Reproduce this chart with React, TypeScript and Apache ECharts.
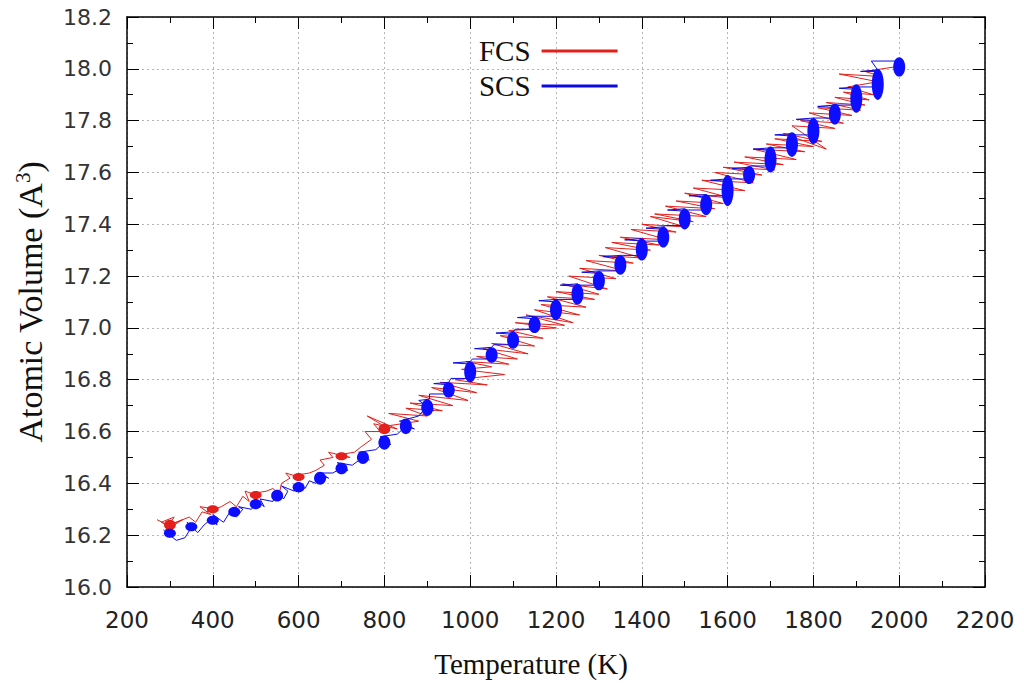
import React, { useEffect, useRef } from "react";
import * as echarts from "echarts";

const xTicks = { min: 200, max: 2200, interval: 200 };
const yTicks = { min: 16.0, max: 18.2, interval: 0.2 };

// FCS trace (temperature K, atomic volume A^3)
const fcsTrace: number[][] = [
  [270,16.26],[305,16.23],[280,16.25],[310,16.27],[290,16.22],[330,16.26],[300,16.24],
  [345,16.27],[360,16.25],[375,16.29],[395,16.28],[370,16.31],[410,16.30],[385,16.29],[420,16.31],
  [440,16.33],[455,16.31],[470,16.35],[485,16.33],[475,16.37],[510,16.35],[490,16.36],[525,16.37],
  [540,16.38],[555,16.36],[560,16.40],[580,16.42],[570,16.44],[610,16.42],[590,16.43],[625,16.44],
  [640,16.45],[660,16.47],[650,16.49],[680,16.50],[670,16.52],[720,16.50],[690,16.51],[730,16.52],
  [745,16.54],[770,16.57],[755,16.60],[790,16.60],[775,16.63],[830,16.61],[760,16.66],[800,16.62],
  [880,16.64],[810,16.67],[900,16.66],[850,16.69],[935,16.68],
  [860,16.71],[960,16.70],[880,16.74],[995,16.72],[910,16.77],[1015,16.75],[930,16.79],[1040,16.78],
  [965,16.80],[1080,16.82],[980,16.84],[1050,16.85],[990,16.87],[1090,16.86],
  [1015,16.89],[1110,16.88],[1030,16.92],[1135,16.90],[1050,16.94],[1150,16.93],[1070,16.97],[1170,16.96],
  [1090,16.99],[1200,17.00],[1105,17.02],
  [1220,17.01],[1130,17.05],[1240,17.02],[1150,17.07],[1255,17.05],[1165,17.09],[1270,17.08],[1180,17.12],
  [1290,17.11],[1200,17.14],
  [1300,17.13],[1215,17.17],[1320,17.15],[1230,17.20],[1340,17.19],[1255,17.23],[1360,17.22],[1270,17.26],
  [1380,17.25],
  [1300,17.28],[1400,17.27],[1315,17.31],[1420,17.30],[1330,17.33],[1440,17.32],[1350,17.35],[1460,17.34],
  [1375,17.38],[1480,17.37],
  [1400,17.40],[1500,17.39],[1420,17.43],[1520,17.41],[1430,17.44],[1550,17.43],[1455,17.47],[1570,17.46],
  [1480,17.49],
  [1590,17.48],[1500,17.52],[1610,17.50],[1520,17.54],[1640,17.53],[1540,17.57],[1660,17.56],[1570,17.60],
  [1680,17.59],[1590,17.62],[1710,17.61],[1615,17.64],[1730,17.63],[1640,17.66],[1760,17.65],[1660,17.69],
  [1780,17.68],
  [1690,17.71],[1800,17.70],[1710,17.73],[1820,17.72],[1730,17.75],[1830,17.69],[1750,17.78],[1850,17.77],
  [1770,17.80],
  [1870,17.79],[1790,17.83],[1890,17.82],[1810,17.85],[1910,17.84],[1830,17.87],[1920,17.86],[1850,17.89],
  [1930,17.88],[1870,17.91],[1940,17.90],[1880,17.93],[1950,17.95],[1860,17.98],[1960,17.97],[1920,17.99],
  [2000,18.01],
];

// SCS trace
const scsTrace: number[][] = [
  [285,16.22],[300,16.20],[315,16.18],[335,16.19],[350,16.23],[340,16.25],[365,16.21],[380,16.24],
  [395,16.26],[410,16.24],[400,16.28],[425,16.25],[440,16.29],[455,16.27],[470,16.30],[460,16.31],
  [490,16.30],[505,16.33],[520,16.31],[510,16.34],[540,16.33],[550,16.37],[565,16.34],[575,16.37],
  [560,16.39],[590,16.37],[600,16.40],[615,16.38],[625,16.41],[640,16.40],[655,16.43],[670,16.42],
  [650,16.44],[680,16.44],[700,16.46],[715,16.45],[690,16.48],[725,16.47],[750,16.50],[765,16.49],
  [740,16.52],[780,16.53],[800,16.56],[815,16.55],[790,16.58],[830,16.59],[850,16.62],[870,16.61],
  [835,16.64],[880,16.66],[900,16.70],[915,16.68],[880,16.72],[905,16.725],
  [905,16.745],[955,16.745],[945,16.76],[955,16.78],[915,16.785],[950,16.79],
  [955,16.805],[1005,16.805],[995,16.83],[1005,16.86],[960,16.865],[1000,16.87],
  [1005,16.88],[1055,16.88],[1045,16.895],[1055,16.915],[1010,16.92],[1050,16.925],
  [1055,16.935],[1105,16.935],[1095,16.955],[1105,16.975],[1060,16.98],[1100,16.985],
  [1105,16.995],[1155,16.995],[1145,17.01],[1155,17.035],[1110,17.04],[1150,17.045],
  [1155,17.045],[1205,17.045],[1195,17.07],[1205,17.10],[1160,17.105],[1200,17.11],
  [1205,17.11],[1255,17.11],[1245,17.13],[1255,17.16],[1210,17.165],[1250,17.17],
  [1255,17.165],[1305,17.165],[1295,17.185],[1305,17.21],[1260,17.215],[1300,17.22],
  [1305,17.22],[1355,17.22],[1345,17.245],[1355,17.27],[1310,17.275],[1350,17.28],
  [1355,17.28],[1405,17.28],[1395,17.30],[1405,17.335],[1360,17.34],[1400,17.345],
  [1405,17.335],[1455,17.335],[1445,17.355],[1455,17.38],[1410,17.385],[1450,17.39],
  [1455,17.395],[1505,17.395],[1495,17.42],[1505,17.45],[1460,17.455],[1500,17.46],
  [1505,17.455],[1555,17.455],[1545,17.48],[1555,17.505],[1510,17.51],[1550,17.515],
  [1555,17.51],[1605,17.51],[1595,17.53],[1605,17.565],[1560,17.57],[1600,17.575],
  [1605,17.575],[1655,17.575],[1645,17.59],[1655,17.61],[1610,17.615],[1650,17.62],
  [1655,17.625],[1705,17.625],[1695,17.65],[1705,17.685],[1660,17.69],[1700,17.695],
  [1705,17.695],[1755,17.695],[1745,17.71],[1755,17.74],[1710,17.745],[1750,17.75],
  [1755,17.745],[1805,17.745],[1795,17.77],[1805,17.80],[1760,17.805],[1800,17.81],
  [1805,17.81],[1855,17.81],[1845,17.83],[1855,17.85],[1810,17.855],[1850,17.86],
  [1855,17.86],[1905,17.86],[1895,17.89],[1905,17.92],[1860,17.925],[1900,17.93],
  [1905,17.93],[1955,17.93],[1945,17.95],[1955,17.99],[1910,17.99],[1950,17.995],
  [1935,18.03],[2005,18.03],[1995,18.01],[2005,17.99],[2000,18.0],
];

// dense clusters at each set temperature: [T, Vmin, Vmax]
const scsClusters: number[][] = [
  [300,16.19,16.225],[350,16.215,16.25],[400,16.24,16.275],[450,16.27,16.31],[500,16.30,16.34],
  [550,16.33,16.375],[600,16.365,16.405],[650,16.395,16.445],[700,16.435,16.48],[750,16.475,16.525],
  [800,16.53,16.585],[850,16.59,16.65],[900,16.66,16.725],[950,16.73,16.79],[1000,16.79,16.87],
  [1050,16.865,16.925],[1100,16.92,16.985],[1150,16.98,17.045],[1200,17.03,17.11],[1250,17.09,17.17],
  [1300,17.145,17.22],[1350,17.205,17.28],[1400,17.26,17.345],[1450,17.31,17.39],[1500,17.38,17.46],
  [1550,17.435,17.515],[1600,17.47,17.59],[1650,17.555,17.625],[1700,17.60,17.70],[1750,17.66,17.755],
  [1800,17.71,17.81],[1850,17.785,17.865],[1900,17.83,17.94],[1950,17.88,18.00],[2000,17.97,18.045],
];

const fcsClusters: number[][] = [
  [300,16.22,16.26],[400,16.29,16.31],[500,16.345,16.365],[600,16.415,16.435],
  [700,16.49,16.52],[800,16.59,16.63],
];

const SERIF = "Liberation Serif";
const SANS = "DejaVu Sans";
const RED = "#e3201b";
const BLUE = "#0a0ae6";

function clusterRenderer(color: string, rx: number) {
  return (params: any, api: any) => {
    const t = api.value(0);
    const lo = api.value(1);
    const hi = api.value(2);
    const p1 = api.coord([t, lo]);
    const p2 = api.coord([t, hi]);
    return {
      type: "ellipse",
      shape: {
        cx: p1[0],
        cy: (p1[1] + p2[1]) / 2,
        rx: rx,
        ry: Math.max(4, Math.abs(p1[1] - p2[1]) / 2),
      },
      style: { fill: color },
    };
  };
}

export default function App() {
  const ref = useRef<HTMLDivElement>(null);
  useEffect(() => {
    if (!ref.current) return;
    const chart = echarts.init(ref.current, null, { renderer: "svg" });
    const gridLine = { show: true, lineStyle: { color: "#b4b4b4", type: [2, 3] as any, width: 1 } };
    const axisLine = { show: true, onZero: false, lineStyle: { color: "#000", width: 1.5 } };
    const tick = { show: true, inside: true, length: 12, lineStyle: { color: "#000", width: 1 } };
    const minorTick = { show: true, splitNumber: 2, length: 6, lineStyle: { color: "#000", width: 1 } };
    chart.setOption({
      animation: false,
      backgroundColor: "#fff",
      grid: { left: 127, right: 39, top: 17, bottom: 104, containLabel: false },
      legend: {
        data: ["FCS", "SCS"],
        orient: "vertical",
        align: "right",
        left: 474,
        top: 31,
        itemWidth: 76,
        itemHeight: 3,
        itemGap: 5,
        icon: "rect",
        textStyle: { fontFamily: SERIF, fontSize: 29, color: "#111", lineHeight: 30, padding: [0, 6, 0, 0] },
      },
      xAxis: [
        {
          type: "value",
          min: xTicks.min,
          max: xTicks.max,
          interval: xTicks.interval,
          name: "Temperature (K)",
          nameLocation: "middle",
          nameGap: 62,
          nameTextStyle: { fontFamily: SERIF, fontSize: 29, color: "#111", padding: [0, 50, 0, 0] },
          axisLine,
          axisTick: tick,
          minorTick,
          splitLine: gridLine,
          axisLabel: {
            fontFamily: SANS,
            fontSize: 23,
            color: "#222",
            margin: 21,
            formatter: (v: number) => String(v),
          },
        },
        {
          type: "value",
          position: "top",
          min: xTicks.min,
          max: xTicks.max,
          interval: xTicks.interval,
          axisLine,
          axisTick: tick,
          minorTick,
          splitLine: { show: false },
          axisLabel: { show: false },
        },
      ],
      yAxis: [
        {
          type: "value",
          min: yTicks.min,
          max: yTicks.max,
          interval: yTicks.interval,
          name: "{a|Atomic Volume (A}{s|3}{a|)}",
          nameLocation: "middle",
          nameGap: 78,
          nameRotate: 90,
          nameTextStyle: {
            rich: {
              a: { fontFamily: SERIF, fontSize: 34, color: "#111" },
              s: { fontFamily: SERIF, fontSize: 21, color: "#111", verticalAlign: "top", padding: [0, 0, 16, 0] },
            },
          },
          axisLine,
          axisTick: tick,
          minorTick,
          splitLine: gridLine,
          axisLabel: {
            fontFamily: SANS,
            fontSize: 22,
            color: "#333",
            margin: 15,
            formatter: (v: number) => v.toFixed(1),
          },
        },
        {
          type: "value",
          position: "right",
          min: yTicks.min,
          max: yTicks.max,
          interval: yTicks.interval,
          axisLine,
          axisTick: tick,
          minorTick,
          splitLine: { show: false },
          axisLabel: { show: false },
        },
      ],
      series: [
        {
          name: "FCS",
          type: "line",
          data: fcsTrace,
          showSymbol: false,
          symbol: "none",
          color: RED,
          lineStyle: { color: RED, width: 1 },
          z: 2,
        },
        {
          name: "FCS clusters",
          type: "custom",
          data: fcsClusters,
          renderItem: clusterRenderer(RED, 6),
          encode: { x: 0, y: [1, 2] },
          z: 3,
        },
        {
          name: "SCS",
          type: "line",
          data: scsTrace,
          showSymbol: false,
          symbol: "none",
          color: BLUE,
          lineStyle: { color: BLUE, width: 1 },
          z: 4,
        },
        {
          name: "SCS clusters",
          type: "custom",
          data: scsClusters,
          renderItem: clusterRenderer("#0d0dff", 6),
          encode: { x: 0, y: [1, 2] },
          z: 5,
        },
      ],
    });
    return () => chart.dispose();
  }, []);
  return <div ref={ref} style={{ width: 1024, height: 691, margin: -8 }} />;
}
